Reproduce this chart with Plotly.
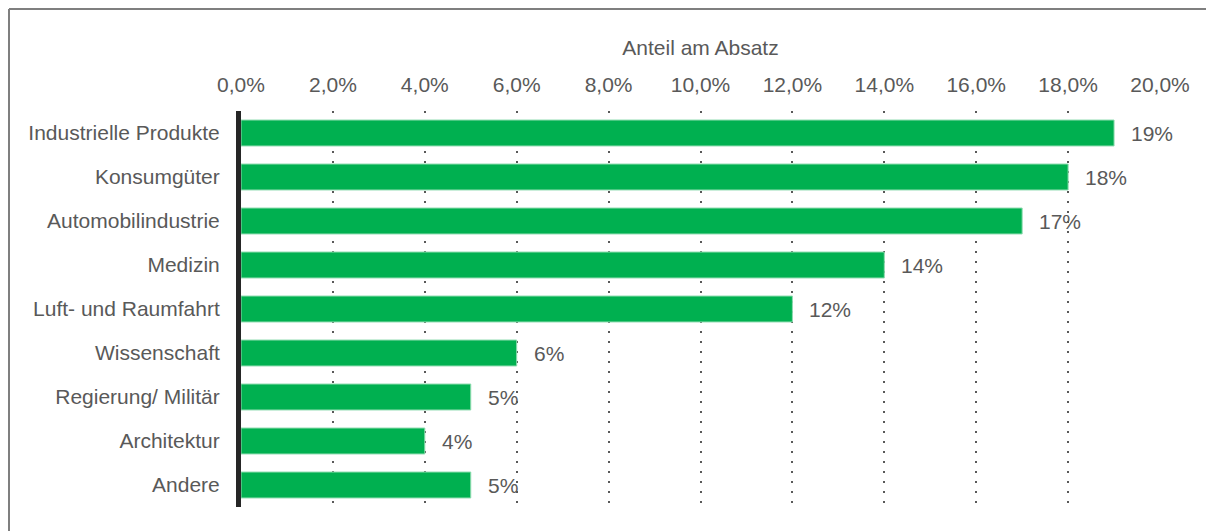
import plotly.graph_objects as go

categories = ["Industrielle Produkte", "Konsumgüter", "Automobilindustrie", "Medizin",
              "Luft- und Raumfahrt", "Wissenschaft", "Regierung/ Militär", "Architektur", "Andere"]
shares = [19, 18, 17, 14, 12, 6, 5, 4, 5]
labels = ["19%", "18%", "17%", "14%", "12%", "6%", "5%", "4%", "5%"]
tick_vals = [0, 2, 4, 6, 8, 10, 12, 14, 16, 18, 20]
tick_text = ["0,0%", "2,0%", "4,0%", "6,0%", "8,0%", "10,0%", "12,0%", "14,0%",
             "16,0%", "18,0%", "20,0%"]

FONT = "Liberation Sans, Arial, sans-serif"
GREY = "#595959"
FS = 21

W, H = 1214, 531
L, R, T, B = 233, 62, 103, 32
PW, PH = W - L - R, H - T - B

fig = go.Figure()
fig.add_trace(go.Bar(
    x=shares, y=categories, orientation="h",
    marker=dict(color="#00B050", line=dict(color="#8fdcb0", width=1)),
    hoverinfo="skip",
))

for c, v, t in zip(categories, shares, labels):
    fig.add_annotation(x=v, y=c, text=t, showarrow=False, xanchor="left",
                       xshift=15, font=dict(family=FONT, size=FS, color=GREY))

fig.update_layout(
    width=W, height=H,
    margin=dict(l=L, r=R, t=T, b=B),
    paper_bgcolor="white", plot_bgcolor="white",
    bargap=0.41,
    showlegend=False,
    font=dict(family=FONT, size=FS, color=GREY),
    xaxis=dict(
        side="top", range=[0, 20], tickvals=tick_vals, ticktext=tick_text,
        showgrid=True, gridcolor=GREY, gridwidth=2, griddash="2px,8px",
        zeroline=False, showline=False,
        ticks="outside", ticklen=10, tickcolor="rgba(0,0,0,0)",
        tickfont=dict(family=FONT, size=FS, color=GREY),
        title=dict(text="Anteil am Absatz", font=dict(family=FONT, size=FS, color=GREY), standoff=11),
    ),
    yaxis=dict(
        categoryorder="array", categoryarray=categories, autorange="reversed",
        showgrid=False, zeroline=False,
        showline=True, linecolor="#262626", linewidth=5,
        ticks="outside", ticklen=12, tickcolor="rgba(0,0,0,0)",
        tickfont=dict(family=FONT, size=FS, color=GREY),
    ),
)

x_left = -(L - 1) / PW
y_top = 1 + (T - 1) / PH
fig.add_shape(type="line", xref="paper", yref="paper",
              x0=x_left, x1=(PW + R) / PW, y0=y_top, y1=y_top,
              line=dict(color="#7f7f7f", width=2), layer="below")
fig.add_shape(type="line", xref="paper", yref="paper",
              x0=x_left, x1=x_left, y0=-B / PH, y1=y_top,
              line=dict(color="#7f7f7f", width=2), layer="below")

fig.write_html("out.html")
